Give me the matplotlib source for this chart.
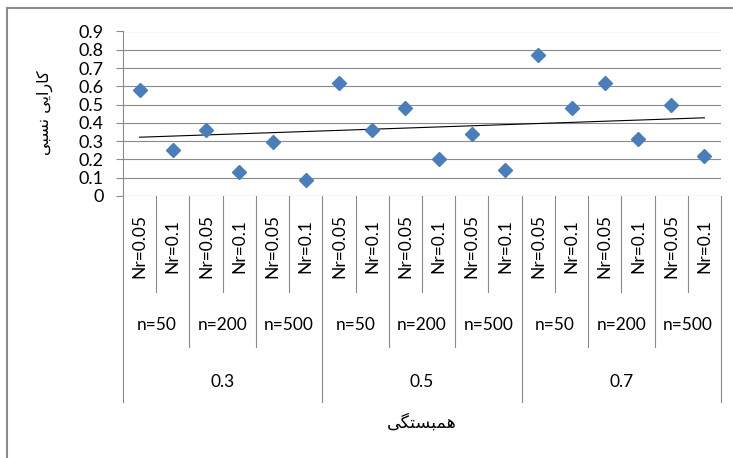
import numpy as np
import matplotlib as mpl; mpl.use("Agg")
import matplotlib.pyplot as plt
from matplotlib.lines import Line2D
from matplotlib.transforms import blended_transform_factory

# data
corr_levels = ["0.3", "0.5", "0.7"]
n_levels = ["n=50", "n=200", "n=500"]
nr_levels = ["Nr=0.05", "Nr=0.1"]
efficiency = [0.58, 0.25, 0.36, 0.13, 0.295, 0.09,
              0.62, 0.36, 0.48, 0.20, 0.34, 0.14,
              0.77, 0.48, 0.62, 0.31, 0.50, 0.22]
yticks = [0, 0.1, 0.2, 0.3, 0.4, 0.5, 0.6, 0.7, 0.8, 0.9]
ylabel = "کارایی نسبی"
xlabel = "همبستگی"

GRID = "#8a8a8a"; BLUE = "#4a7ebb"
FS = 12.5
mpl.rcParams.update({"font.family": ["Lato", "DejaVu Sans"], "font.size": FS})

# presentation forms (iso, fin, ini, med); matplotlib has no Arabic shaping
FORMS = {"ک": "\uFB8E\uFB8F\uFB90\uFB91", "گ": "\uFB92\uFB93\uFB94\uFB95",
         "ا": "\uFE8D\uFE8E\uFE8D\uFE8E", "ر": "\uFEAD\uFEAE\uFEAD\uFEAE",
         "ی": "\uFBFC\uFBFD\uFBFE\uFBFF", "ن": "\uFEE5\uFEE6\uFEE7\uFEE8",
         "س": "\uFEB1\uFEB2\uFEB3\uFEB4", "ب": "\uFE8F\uFE90\uFE91\uFE92",
         "ه": "\uFEE9\uFEEA\uFEEB\uFEEC", "م": "\uFEE1\uFEE2\uFEE3\uFEE4",
         "ت": "\uFE95\uFE96\uFE97\uFE98"}
RIGHT_ONLY = set("اردذزژو")

def shape(s):
    out = []
    for i, ch in enumerate(s):
        if ch not in FORMS: out.append(ch); continue
        prev = s[i-1] if i > 0 else ""
        nxt = s[i+1] if i < len(s)-1 else ""
        jp = prev in FORMS and prev not in RIGHT_ONLY
        jn = nxt in FORMS and ch not in RIGHT_ONLY
        k = 3 if (jp and jn) else 1 if jp else 2 if jn else 0
        out.append(FORMS[ch][k])
    return "".join(out)[::-1]

W, H = 733, 458
fig = plt.figure(figsize=(W/100, H/100), dpi=100)
L, R, T, B = 123, 721, 31.5, 196
ax = fig.add_axes([L/W, 1-B/H, (R-L)/W, (B-T)/H])

x = np.arange(1, len(efficiency)+1)
ax.plot(x, efficiency, ls="", marker="D", ms=7.2, color=BLUE, mec=BLUE, zorder=3)
k, b0 = np.polyfit(x, efficiency, 1)
ax.plot(x[[0, -1]], k*x[[0, -1]]+b0, color="black", lw=0.8, zorder=2)

ax.set_xlim(0.5, len(x)+0.5); ax.set_ylim(0, 0.9)
ax.set_yticks(yticks); ax.set_yticklabels([f"{v:g}" for v in yticks])
ax.set_xticks([])
for v in yticks[1:]:
    ax.axhline(v, color=GRID, lw=0.8, zorder=1)
for s in ["top", "right", "bottom"]: ax.spines[s].set_visible(False)
ax.spines["left"].set_color(GRID); ax.spines["left"].set_linewidth(0.8)
ax.axhline(0, color=GRID, lw=0.8, zorder=1)
ax.tick_params(axis="y", length=5, width=0.8, color=GRID, pad=9, labelsize=13)

# multi-level category axis
tr = blended_transform_factory(ax.transData, fig.transFigure)
fy = lambda py: 1 - py/H
y0 = fy(B); y1, y2, y3 = fy(292), fy(347), fy(402)
nn, nr = len(n_levels), len(nr_levels)
for i in range(len(x)+1):
    xe = i + 0.5
    bot = y3 if i % (nn*nr) == 0 else y2 if i % nr == 0 else y1
    fig.add_artist(Line2D([xe, xe], [y0, bot], transform=tr, color=GRID, lw=0.8))
for i in range(len(x)):
    ax.text(x[i], fy(246), nr_levels[i % nr], transform=tr, rotation=90,
            ha="center", va="center", fontsize=FS)
for j in range(len(corr_levels)*nn):
    ax.text(j*nr + (nr+1)/2, fy(325), n_levels[j % nn], transform=tr,
            ha="center", va="center", fontsize=FS)
for j, c in enumerate(corr_levels):
    ax.text(j*nn*nr + (nn*nr+1)/2, fy(382), c, transform=tr,
            ha="center", va="center", fontsize=FS)

fig.text((L+R)/2/W, fy(423), shape(xlabel), ha="center", va="center",
         family="DejaVu Sans", fontsize=12.5)
fig.text(45/W, fy(113), shape(ylabel), ha="center", va="center", rotation=90,
         family="DejaVu Sans", fontsize=11.5)

# chart border (clipped on right and bottom in the reference)
fig.add_artist(Line2D([7/W, 7/W], [0, fy(8)], transform=fig.transFigure, color="#8c8c8c", lw=1.5))
fig.add_artist(Line2D([7/W, 1], [fy(8), fy(8)], transform=fig.transFigure, color="#8c8c8c", lw=1.5))

fig.savefig("out.png", dpi=100)
